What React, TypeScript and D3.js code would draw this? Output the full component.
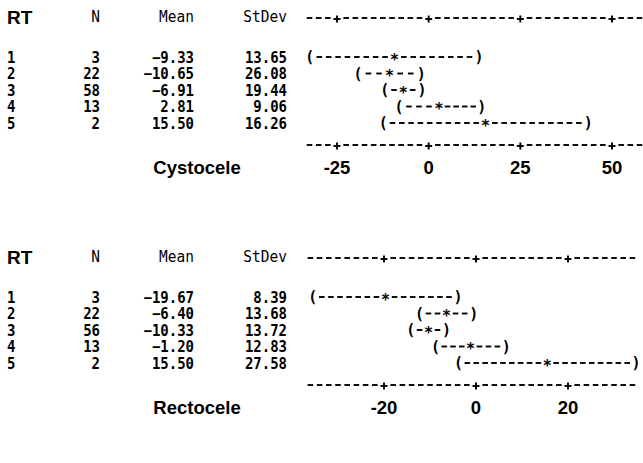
import React from 'react';
import * as d3 from 'd3';

// Cystocele block
const cysRT = ['1', '2', '3', '4', '5'];
const cysN = [3, 22, 58, 13, 2];
const cysMean = [-9.33, -10.65, -6.91, 2.81, 15.5];
const cysSD = [13.65, 26.08, 19.44, 9.06, 16.26];
const cysLo = [-32.4, -19.3, -12.0, -8.1, -12.4];
const cysHi = [13.7, -2.0, -1.8, 14.5, 43.5];
const cysTicks = [-25, 0, 25, 50];

// Rectocele block
const recRT = ['1', '2', '3', '4', '5'];
const recN = [3, 22, 56, 13, 2];
const recMean = [-19.67, -6.4, -10.33, -1.2, 15.5];
const recSD = [8.39, 13.68, 13.72, 12.83, 27.58];
const recLo = [-35.5, -12.3, -14.2, -8.8, -3.8];
const recHi = [-3.9, -0.5, -6.4, 6.6, 34.8];
const recTicks = [-20, 0, 20];

const mono = '"DejaVu Sans Mono", monospace';
const sans = '"Liberation Sans", Arial, sans-serif';

const AXIS_X0 = 306;
const AXIS_X1 = 643;

// monospace text, stretched a little vertically like the printout font
function MText({ x, y, anchor = 'start', bold = true, size = 14.5, children }: any) {
  return (
    <text transform={`translate(${x},${y}) scale(1,1.1)`} textAnchor={anchor}
      fontFamily={mono} fontWeight={bold ? 'bold' : 'normal'} fontSize={size}>{children}</text>
  );
}

function Dash({ x, y }: { x: number; y: number }) {
  return <line x1={x - 2.8} x2={x + 2.8} y1={y} y2={y} stroke="#000" strokeWidth={1.9} />;
}

// ascii-like axis: dashes on a character grid, '+' at ticks
function AsciiAxis({ x, ticks, y }: { x: d3.ScaleLinear<number, number>; ticks: number[]; y: number }) {
  const step = (x(ticks[1]) - x(ticks[0])) / 10;
  const t0 = x(ticks[0]);
  const kMin = Math.ceil((AXIS_X0 - t0) / step);
  const kMax = Math.floor((AXIS_X1 - 2 - t0) / step);
  const cells = d3.range(kMin, kMax + 1);
  return (
    <g>
      {cells.map(k => {
        const cx = t0 + k * step;
        if (k % 10 === 0) {
          return (
            <g key={k}>
              <line x1={cx - 3.5} x2={cx + 3.5} y1={y + 1} y2={y + 1} stroke="#000" strokeWidth={1.9} />
              <line x1={cx} x2={cx} y1={y - 2.5} y2={y + 4.5} stroke="#000" strokeWidth={1.9} />
            </g>
          );
        }
        return <Dash key={k} x={cx} y={y} />;
      })}
    </g>
  );
}

function Interval({ x, lo, hi, mean, y, step }: any) {
  const a = x(lo), b = x(hi), m = x(mean);
  const left = Math.max(0, Math.round((m - a) / step) - 1);
  const right = Math.max(0, Math.round((b - m) / step) - 1);
  const leftDashes = d3.range(left).map(i => a + ((i + 1) * (m - a)) / (left + 1));
  const rightDashes = d3.range(right).map(i => m + ((i + 1) * (b - m)) / (right + 1));
  return (
    <g>
      <MText x={a} y={y + 5} anchor="middle" size={15}>(</MText>
      <MText x={b} y={y + 5} anchor="middle" size={15}>)</MText>
      {leftDashes.map((d, i) => <Dash key={'l' + i} x={d} y={y} />)}
      {rightDashes.map((d, i) => <Dash key={'r' + i} x={d} y={y} />)}
      <MText x={m} y={y + 7.5} anchor="middle" size={15}>*</MText>
    </g>
  );
}

function Panel({ top, title, rt, n, mean, sd, lo, hi, ticks, domain, range }: any) {
  const x = d3.scaleLinear().domain(domain).range(range);
  const step = (x(ticks[1]) - x(ticks[0])) / 10;
  const rowY = rt.map((_: string, i: number) => 57 + i * 16.5);
  const fmt = d3.format('.2f');
  return (
    <g transform={`translate(0,${top})`}>
      <text x={7} y={24} fontFamily={sans} fontWeight="bold" fontSize={19}>RT</text>
      <MText x={100} y={22} anchor="end" bold={false}>N</MText>
      <MText x={194} y={22} anchor="end" bold={false}>Mean</MText>
      <MText x={287} y={22} anchor="end" bold={false}>StDev</MText>
      <AsciiAxis x={x} ticks={ticks} y={18} />
      {rt.map((r: string, i: number) => (
        <g key={r}>
          <MText x={7} y={rowY[i] + 5.5} size={14}>{r}</MText>
          <MText x={100} y={rowY[i] + 5.5} anchor="end" size={14}>{n[i]}</MText>
          <MText x={194} y={rowY[i] + 5.5} anchor="end" size={14}>{fmt(mean[i])}</MText>
          <MText x={287} y={rowY[i] + 5.5} anchor="end" size={14}>{fmt(sd[i])}</MText>
          <Interval x={x} lo={lo[i]} hi={hi[i]} mean={mean[i]} y={rowY[i]} step={step} />
        </g>
      ))}
      <AsciiAxis x={x} ticks={ticks} y={145} />
      <text x={197} y={174} textAnchor="middle" fontFamily={sans} fontWeight="bold" fontSize={18.5}>{title}</text>
      {ticks.map((t: number) => (
        <text key={t} x={x(t)} y={174} textAnchor="middle" fontFamily={sans} fontWeight="bold" fontSize={18.5}>{t}</text>
      ))}
    </g>
  );
}

export default function App() {
  return (
    <svg width={643} height={463} style={{ position: 'fixed', left: 0, top: 0, background: '#fff' }}>
      <rect width={643} height={463} fill="#fff" />
      <Panel top={0} title="Cystocele" rt={cysRT} n={cysN} mean={cysMean} sd={cysSD}
        lo={cysLo} hi={cysHi} ticks={cysTicks} domain={[-25, 50]} range={[337, 612]} />
      <Panel top={240} title="Rectocele" rt={recRT} n={recN} mean={recMean} sd={recSD}
        lo={recLo} hi={recHi} ticks={recTicks} domain={[-20, 20]} range={[384, 568]} />
    </svg>
  );
}
